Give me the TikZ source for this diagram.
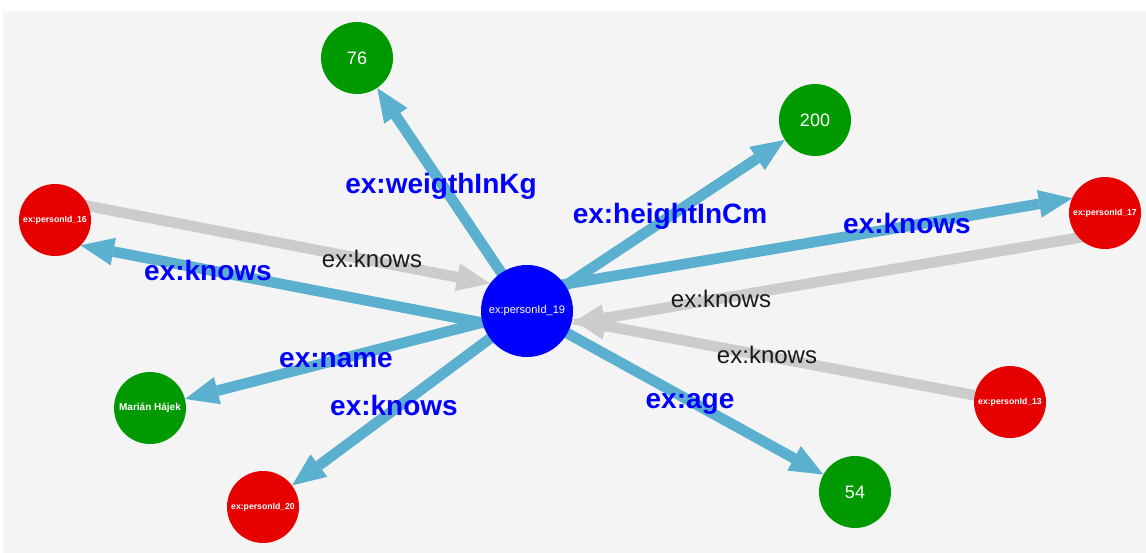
\documentclass[tikz,border=0pt]{standalone}
\usepackage{fontspec}
\setmainfont{Liberation Sans}
\usetikzlibrary{arrows.meta,calc}

\pgfdeclarelayer{canvaslayer}
\pgfdeclarelayer{linklayer}
\pgfsetlayers{canvaslayer,linklayer,main}

\definecolor{canvas}{HTML}{F4F4F4}
\definecolor{linkblue}{RGB}{91,176,208}
\definecolor{linkgray}{HTML}{CCCCCC}
\definecolor{hubblue}{HTML}{0000FF}
\definecolor{personred}{HTML}{E60000}
\definecolor{literalgreen}{HTML}{009900}
\definecolor{relblue}{HTML}{0000FF}
\definecolor{relgray}{HTML}{1A1A1A}

\tikzset{
  vertex/.style={circle, inner sep=0pt, minimum size=54pt, text=white, align=center},
  hub/.style={vertex, fill=hubblue, minimum size=69pt, font=\fontsize{8.3}{10}\selectfont},
  person/.style={vertex, fill=personred, font=\bfseries\fontsize{6.5}{8}\selectfont},
  literal/.style={vertex, fill=literalgreen, font=\fontsize{13.5}{16}\selectfont},
  namelit/.style={vertex, fill=literalgreen, font=\bfseries\fontsize{7.5}{9}\selectfont},
  link/.style={line width=8pt, -{Triangle[length=25pt,width=21pt,line width=0pt]}},
  outlink/.style={link, draw=linkblue, fill=linkblue},
  inlink/.style={link, draw=linkgray, fill=linkgray},
  rel/.style={text=relblue, anchor=mid, inner sep=0pt, font=\bfseries\fontsize{21}{25}\selectfont},
  relplain/.style={text=relgray, anchor=mid, inner sep=0pt, font=\fontsize{18}{22}\selectfont},
}

\begin{document}
\begin{tikzpicture}[x=0.75pt, y=-0.75pt]
  \useasboundingbox (0,0) rectangle (1146,553);
  \begin{pgfonlayer}{canvaslayer}
    \fill[white] (0,0) rectangle (1146,553);
    \fill[canvas] (3,11) rectangle (1146,553);
  \end{pgfonlayer}

  % resources and literals
  \node[hub]     (hub)    at (527,311) {ex:personId\_19};
  \node[literal] (w76)    at (357,58)  {76};
  \node[literal] (h200)   at (815,120) {200};
  \node[literal] (age54)  at (855,492) {54};
  \node[namelit] (marian) at (150,408) {Marián Hájek};
  \node[person]  (p16)    at (55,220)  {ex:personId\_16};
  \node[person]  (p17)    at (1105,213) {ex:personId\_17};
  \node[person]  (p13)    at (1010,402) {ex:personId\_13};
  \node[person]  (p20)    at (263,507) {ex:personId\_20};

  % links (two-way pairs are drawn side by side)
  \begin{pgfonlayer}{linklayer}
    \draw[outlink] (hub.center) -- (w76);
    \draw[outlink] (hub.center) -- (h200);
    \draw[outlink] (hub.center) -- (age54);
    \draw[outlink] (hub.center) -- (p20);
    \draw[outlink] (hub.center) -- (marian);
    \draw[inlink]  (p13) -- (hub);
    \draw[outlink, shorten >=22.4pt]
      ($(hub.center)!15pt!90:(p17.center)$) -- ($(p17.center)!15pt!-90:(hub.center)$);
    \draw[inlink, shorten >=31.1pt]
      ($(p17.center)!15pt!90:(hub.center)$) -- ($(hub.center)!15pt!-90:(p17.center)$);
    \draw[outlink, shorten >=22.4pt]
      ($(hub.center)!15pt!90:(p16.center)$) -- ($(p16.center)!15pt!-90:(hub.center)$);
    \draw[inlink, shorten >=31.1pt]
      ($(p16.center)!15pt!90:(hub.center)$) -- ($(hub.center)!15pt!-90:(p16.center)$);
  \end{pgfonlayer}

  % link labels
  \node[rel] (lweight) at (441,190) {ex:weigthInKg};
  \node[rel] (lheight) at (670,220) {ex:heightInCm};
  \node[rel] (lk17)    at (907,230) {ex:knows};
  \node[rel] (lk16)    at (208,277) {ex:knows};
  \node[rel] (lname)   at (336,364) {ex:name};
  \node[rel] (lk20)    at (394,412) {ex:knows};
  \node[rel] (lage)    at (690,405) {ex:age};
  \node[relplain] (lk16in) at (372,264) {ex:knows};
  \node[relplain] (lk17in) at (721,304) {ex:knows};
  \node[relplain] (lk13in) at (767,360) {ex:knows};
\end{tikzpicture}
\end{document}
